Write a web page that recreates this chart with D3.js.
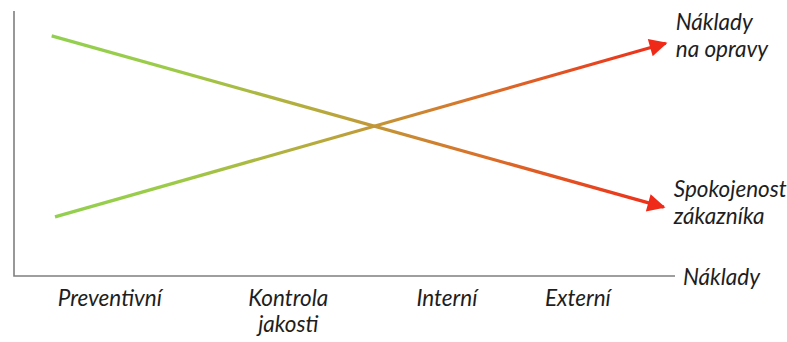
<!DOCTYPE html>
<html>
<head>
<meta charset="utf-8">
<script src="https://cdn.jsdelivr.net/npm/d3@7"></script>
<style>
  html, body { margin: 0; padding: 0; background: #fff; }
  svg { display: block; }
  text { font-family: Lato, "Open Sans", sans-serif; font-style: italic; fill: #1e1e1e; }
</style>
</head>
<body>
<div id="chart"></div>
<script>
// Cost categories along the horizontal axis (position on a 0–100 cost scale)
const categories = [["Preventivní"], ["Kontrola", "jakosti"], ["Interní"], ["Externí"]];
const categoryPos = [14.5, 41.5, 65.5, 85.3];

// Two trend series: [start, end] points on the 0–100 scales
const seriesNames = [["Náklady", "na opravy"], ["Spokojenost", "zákazníka"]];
const seriesX = [[6.2, 98.6], [5.7, 98.3]];
const seriesY = [[22.3, 87.8], [90.6, 26.0]];

const axisTitle = "Náklady";

const W = 787, H = 342;
const FONT = 22.5;
const svg = d3.select("#chart").append("svg").attr("width", W).attr("height", H);

const x = d3.scaleLinear().domain([0, 100]).range([14, 675]);
const y = d3.scaleLinear().domain([0, 100]).range([276, 11]);

const defs = svg.append("defs");

// Green-to-red colour ramp running left to right
const grad = defs.append("linearGradient")
  .attr("id", "ramp")
  .attr("gradientUnits", "userSpaceOnUse")
  .attr("x1", x(5)).attr("x2", x(99)).attr("y1", 0).attr("y2", 0);
[[0, "#92D050"], [0.2, "#9ccb48"], [0.45, "#b8a83c"], [0.7, "#d9702a"], [1, "#f02a18"]]
  .forEach(([o, c]) => grad.append("stop").attr("offset", o).attr("stop-color", c));

defs.append("marker")
  .attr("id", "head")
  .attr("viewBox", "0 0 10 10")
  .attr("refX", 9).attr("refY", 5)
  .attr("markerWidth", 6.6).attr("markerHeight", 5.6)
  .attr("markerUnits", "strokeWidth")
  .attr("orient", "auto")
  .append("path").attr("d", "M0,0 L10,5 L0,10 Z").attr("fill", "#f02a18");

// Axes (plain lines, no ticks)
svg.append("path")
  .attr("d", d3.line()([[x(0), y(100)], [x(0), y(0)], [x(100), y(0)]]))
  .attr("fill", "none").attr("stroke", "#7f7f7f").attr("stroke-width", 1.6);

// Trend lines with arrow heads and two-line labels beside the tips
const labelShift = [-13, -10];
seriesX.forEach((xs, i) => {
  const p0 = [x(xs[0]), y(seriesY[i][0])];
  const p1 = [x(xs[1]), y(seriesY[i][1])];
  svg.append("path")
    .attr("d", d3.line()([p0, p1]))
    .attr("fill", "none")
    .attr("stroke", "url(#ramp)")
    .attr("stroke-width", 3.2)
    .attr("marker-end", "url(#head)");

  const lx = p1[0] + 10;
  const t = svg.append("text")
    .attr("x", lx)
    .attr("y", p1[1] + labelShift[i])
    .attr("font-size", FONT);
  seriesNames[i].forEach((s, k) => t.append("tspan").attr("x", lx).attr("dy", k ? 26.5 : 0).text(s));
});

// Category labels under the axis
categories.forEach((lines, i) => {
  const cx = x(categoryPos[i]);
  const t = svg.append("text")
    .attr("text-anchor", "middle")
    .attr("x", cx)
    .attr("y", 306)
    .attr("font-size", FONT);
  lines.forEach((s, k) => t.append("tspan").attr("x", cx).attr("dy", k ? 26 : 0).text(s));
});

// Axis title at the end of the horizontal axis
svg.append("text")
  .attr("x", x(100) + 8).attr("y", 285)
  .attr("font-size", FONT)
  .text(axisTitle);
</script>
</body>
</html>
